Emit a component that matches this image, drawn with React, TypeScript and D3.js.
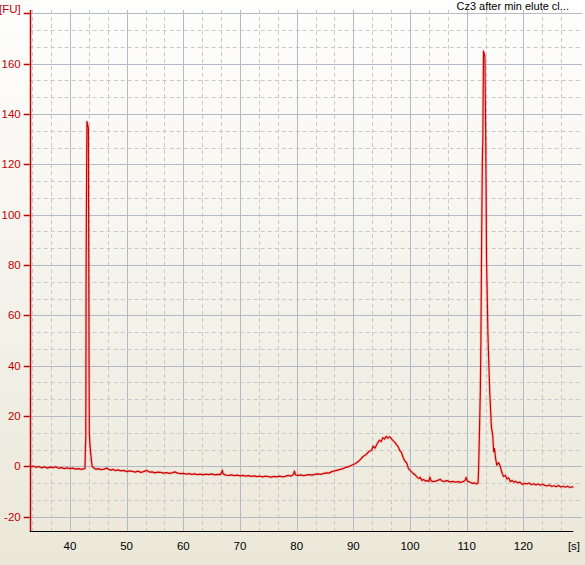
import React, { useEffect, useRef } from 'react'
import * as d3 from 'd3'

const W = 585
const H = 565
const plotLeft = 29.7
const plotRight = 573.3
const plotTop = 10
const plotBottom = 531
const traceColor = '#cc0000'
const axisRed = '#c00000'
const font = '"Liberation Sans", Arial, sans-serif'

const title = 'Cz3 after min elute cl...'
const xUnit = '[s]'
const yUnit = '[FU]'
const xDomain = [32.9, 128.8]
const yDomain = [-25.7, 181.3]
const xMajorTicks = [40, 50, 60, 70, 80, 90, 100, 110, 120]
const yMajorTicks = [-20, 0, 20, 40, 60, 80, 100, 120, 140, 160, 180]

// [seconds, FU], split by region
const baselineStart: [number, number][] = [
	[32.9, 0.3], [33.2, -0.2], [33.5, 0.1], [34.0, -0.4], [34.5, -0.1], [35.0, -0.6], [35.5, -0.2],
	[36.0, -0.7], [36.5, -0.3], [37.0, -0.5], [37.5, -0.2], [38.0, -0.8], [38.5, -0.5], [39.0, -0.9],
	[39.5, -0.6], [40.0, -0.9], [40.5, -0.7], [41.0, -1.1], [41.5, -0.9], [42.0, -1.2], [42.4, -1.0],
	[42.65, -0.9],
]
const lowerMarker: [number, number][] = [
	[42.72, 6.5], [42.8, 12], [42.85, 76.7], [42.95, 120], [43.0, 137], [43.1, 136], [43.25, 134.5],
	[43.32, 80], [43.37, 40], [43.42, 13], [43.55, 8], [43.7, 4.5], [43.85, 1], [44.0, -0.3], [44.3, -0.8],
]
const baselineMid: [number, number][] = [
	[44.6, -1.2], [45.0, -0.9], [45.5, -1.3], [46.0, -1.1], [46.5, -0.7], [46.8, -1.2], [47.2, -1.5],
	[47.6, -1.2], [48.0, -1.7], [48.5, -1.4], [49.0, -1.8], [49.5, -1.6], [50.0, -2.1], [50.5, -1.8],
	[51.0, -2.0], [51.5, -2.3], [52.0, -1.9], [52.5, -2.4], [53.0, -2.1], [53.5, -1.6], [54.0, -2.3],
	[54.5, -2.2], [55.0, -2.6], [55.5, -2.3], [56.0, -2.4], [56.5, -2.7], [57.0, -2.5], [57.5, -2.8],
	[58.0, -2.6], [58.5, -2.2], [59.0, -2.7], [59.5, -2.9], [60.0, -2.8], [60.5, -3.1], [61.0, -2.9],
	[61.5, -3.2], [62.0, -3.0], [62.5, -3.3], [63.0, -3.1], [63.5, -3.4], [64.0, -3.1], [64.5, -3.3],
	[65.0, -3.0], [65.5, -3.4], [66.0, -3.2], [66.5, -3.3], [66.8, -2.2], [66.9, -1.5], [67.0, -3.0],
	[67.5, -3.5], [68.0, -3.6], [68.5, -3.4], [69.0, -3.7], [69.5, -3.5], [70.0, -3.8], [70.5, -3.6],
	[71.0, -3.9], [71.5, -3.7], [72.0, -4.0], [72.5, -3.8], [73.0, -4.1], [73.5, -3.9], [74.0, -4.2],
	[74.5, -3.9], [75.0, -4.1], [75.5, -4.3], [76.0, -4.0], [76.5, -4.2], [77.0, -3.9], [77.5, -4.2],
	[78.0, -4.0], [78.5, -3.6], [79.0, -3.9], [79.4, -3.3], [79.6, -1.9], [79.8, -3.4], [80.2, -3.6],
	[80.7, -3.4], [81.2, -3.7], [81.7, -3.5], [82.2, -3.3], [82.7, -3.5], [83.2, -3.2], [83.7, -3.0],
	[84.2, -3.2], [84.7, -2.9], [85.2, -2.6], [85.7, -2.7], [86.2, -2.1],
]
const smear: [number, number][] = [
	[86.7, -1.8], [87.2, -1.5], [87.7, -1.2], [88.2, -0.9], [88.7, -0.4], [89.2, -0.1], [89.7, 0.4],
	[90.2, 0.9], [90.7, 1.6], [91.2, 2.6], [91.7, 3.9], [92.2, 4.6], [92.7, 5.8], [93.2, 6.4],
	[93.5, 8.0], [93.8, 7.2], [94.2, 9.0], [94.6, 10.4], [94.9, 9.8], [95.2, 11.4], [95.5, 10.8],
	[95.8, 11.9], [96.1, 11.2], [96.4, 11.8], [96.7, 11.0], [97.0, 10.2], [97.3, 9.6], [97.6, 8.6],
	[97.9, 7.8], [98.2, 6.2], [98.5, 5.4], [98.8, 3.4], [99.1, 2.0], [99.4, 1.4], [99.7, -0.8],
	[100.0, -1.6], [100.3, -2.2], [100.6, -3.0], [100.9, -3.4], [101.2, -4.2], [101.5, -4.8],
]
const baselineLate: [number, number][] = [
	[101.8, -4.4], [102.1, -5.6], [102.4, -5.2], [102.7, -5.9], [103.0, -5.7], [103.3, -6.0],
	[103.5, -4.3], [103.7, -5.8], [104.1, -6.1], [104.5, -5.9], [105.0, -5.5], [105.3, -5.1],
	[105.6, -5.8], [106.0, -6.0], [106.5, -5.7], [107.0, -6.2], [107.5, -6.0], [108.0, -6.3],
	[108.5, -6.1], [109.0, -6.4], [109.4, -6.0], [109.7, -5.6], [109.9, -4.4], [110.1, -5.9],
	[110.5, -6.2], [111.0, -6.8], [111.4, -6.6], [111.8, -7.0], [112.0, -6.5],
]
const upperMarker: [number, number][] = [
	[112.1, -1], [112.2, 9], [112.4, 30], [112.5, 49], [112.6, 82], [112.75, 120], [112.85, 131],
	[112.95, 165], [113.2, 163], [113.35, 130], [113.5, 82], [113.75, 51.5], [114.05, 30],
	[114.35, 15.7], [114.6, 12], [114.75, 5.8], [114.9, 7], [115.1, 3], [115.3, 0.5], [115.6, 1.5],
	[115.9, 0.2],
]
const tail: [number, number][] = [
	[116.2, -2.5], [116.5, -4.1], [116.8, -3.6], [117.1, -5.0], [117.4, -4.6], [117.7, -6.1],
	[118.0, -5.6], [118.3, -6.3], [118.6, -5.9], [119.0, -6.6], [119.4, -6.3], [119.8, -7.2],
	[120.2, -6.8], [120.6, -7.0], [121.0, -6.6], [121.4, -7.3], [121.8, -6.9], [122.2, -7.4],
	[122.6, -7.0], [123.0, -7.5], [123.4, -7.1], [123.8, -7.6], [124.2, -7.8], [124.6, -7.4],
	[125.0, -8.0], [125.4, -7.7], [125.8, -8.1], [126.2, -7.6], [126.6, -8.2], [127.0, -7.9],
	[127.4, -8.3], [127.8, -7.9], [128.2, -8.4], [128.6, -8.1], [128.8, -8.4],
]

const trace = [...baselineStart, ...lowerMarker, ...baselineMid, ...smear, ...baselineLate, ...upperMarker, ...tail]

export default function App() {
	const svgRef = useRef<SVGSVGElement>(null)

	useEffect(() => {
		const svg = d3.select(svgRef.current)
		svg.selectAll('*').remove()

		const x = d3.scaleLinear().domain(xDomain).range([plotLeft, plotRight])
		const y = d3.scaleLinear().domain(yDomain).range([plotBottom, plotTop])

		// background gradient, white to XP beige
		const grad = svg.append('defs').append('linearGradient')
			.attr('id', 'bg').attr('x1', 0).attr('y1', 0).attr('x2', 0).attr('y2', 1)
		grad.append('stop').attr('offset', '0%').attr('stop-color', '#fefefd')
		grad.append('stop').attr('offset', '100%').attr('stop-color', '#ebe8d9')
		svg.append('rect').attr('width', W).attr('height', H).attr('fill', 'url(#bg)')

		// minor grid (3 divisions per major step)
		const xMinor = d3.range(xMajorTicks[0] - 20 / 3, xDomain[1], 10 / 3)
			.filter(v => v > xDomain[0] && Math.abs(v - Math.round(v / 10) * 10) > 0.01)
		const yMinor = d3.range(yMajorTicks[0] - 40 / 3, yDomain[1], 20 / 3)
			.filter(v => v > yDomain[0] && Math.abs(v - Math.round(v / 20) * 20) > 0.01)

		const grid = svg.append('g')
		grid.selectAll('line.xminor').data(xMinor).enter().append('line')
			.attr('x1', d => Math.round(x(d)) + 0.5).attr('x2', d => Math.round(x(d)) + 0.5)
			.attr('y1', plotTop).attr('y2', plotBottom)
			.attr('stroke', '#c9c9c9').attr('stroke-dasharray', '4,3')
		grid.selectAll('line.yminor').data(yMinor).enter().append('line')
			.attr('y1', d => Math.round(y(d)) + 0.5).attr('y2', d => Math.round(y(d)) + 0.5)
			.attr('x1', plotLeft).attr('x2', W - 3)
			.attr('stroke', '#c9c9c9').attr('stroke-dasharray', '4,3')
		grid.selectAll('line.xmajor').data(xMajorTicks).enter().append('line')
			.attr('x1', d => Math.round(x(d)) + 0.5).attr('x2', d => Math.round(x(d)) + 0.5)
			.attr('y1', plotTop).attr('y2', plotBottom)
			.attr('stroke', '#b3b9c6')
		grid.selectAll('line.ymajor').data(yMajorTicks).enter().append('line')
			.attr('y1', d => Math.round(y(d)) + 0.5).attr('y2', d => Math.round(y(d)) + 0.5)
			.attr('x1', plotLeft).attr('x2', W - 3)
			.attr('stroke', '#b3b9c6')

		// trace with a soft halo
		const line = d3.line<[number, number]>()
			.x(d => x(d[0]))
			.y(d => y(d[1]))
		svg.append('path').attr('d', line(trace))
			.attr('fill', 'none').attr('stroke', '#ff6060').attr('stroke-opacity', 0.25)
			.attr('stroke-width', 3).attr('stroke-linejoin', 'round')
		svg.append('path').attr('d', line(trace))
			.attr('fill', 'none').attr('stroke', traceColor).attr('stroke-width', 1.2)
			.attr('stroke-linejoin', 'round')

		// y axis (red)
		const yAxis = svg.append('g')
		yAxis.append('line')
			.attr('x1', Math.round(plotLeft) + 0.5).attr('x2', Math.round(plotLeft) + 0.5)
			.attr('y1', plotTop).attr('y2', plotBottom)
			.attr('stroke', axisRed).attr('stroke-width', 1.5)
		yAxis.selectAll('line.tick').data(yMajorTicks).enter().append('line')
			.attr('x1', plotLeft - 6).attr('x2', plotLeft)
			.attr('y1', d => Math.round(y(d)) + 0.5).attr('y2', d => Math.round(y(d)) + 0.5)
			.attr('stroke', axisRed).attr('stroke-width', 1.5)
		yAxis.selectAll('text').data(yMajorTicks).enter().append('text')
			.attr('x', d => d === 180 ? plotLeft - 9 : plotLeft - 9)
			.attr('y', d => d === 180 ? y(d) - 4 : y(d))
			.attr('dy', '0.35em')
			.attr('text-anchor', 'end')
			.attr('font-family', font).attr('font-size', 11.5)
			.attr('fill', axisRed)
			.text(d => d === 180 ? yUnit : String(d))

		// x axis (black)
		const xAxis = svg.append('g')
		xAxis.append('line')
			.attr('x1', plotLeft).attr('x2', plotRight)
			.attr('y1', plotBottom + 0.5).attr('y2', plotBottom + 0.5)
			.attr('stroke', '#000').attr('stroke-width', 1.2)
		xAxis.selectAll('text').data(xMajorTicks).enter().append('text')
			.attr('x', d => x(d))
			.attr('y', 546).attr('dy', '0.35em')
			.attr('text-anchor', 'middle')
			.attr('font-family', font).attr('font-size', 11.5)
			.attr('fill', '#000')
			.text(d => String(d))
		xAxis.append('text')
			.attr('x', 574).attr('y', 546).attr('dy', '0.35em')
			.attr('text-anchor', 'middle')
			.attr('font-family', font).attr('font-size', 11.5)
			.text(xUnit)

		svg.append('text')
			.attr('x', 569).attr('y', 6).attr('dy', '0.35em')
			.attr('text-anchor', 'end')
			.attr('font-family', font).attr('font-size', 11)
			.text(title)
	}, [])

	return (
		<div style={{ position: 'fixed', left: 0, top: 0 }}>
			<svg ref={svgRef} width={W} height={H} style={{ display: 'block' }}></svg>
		</div>
	)
}
